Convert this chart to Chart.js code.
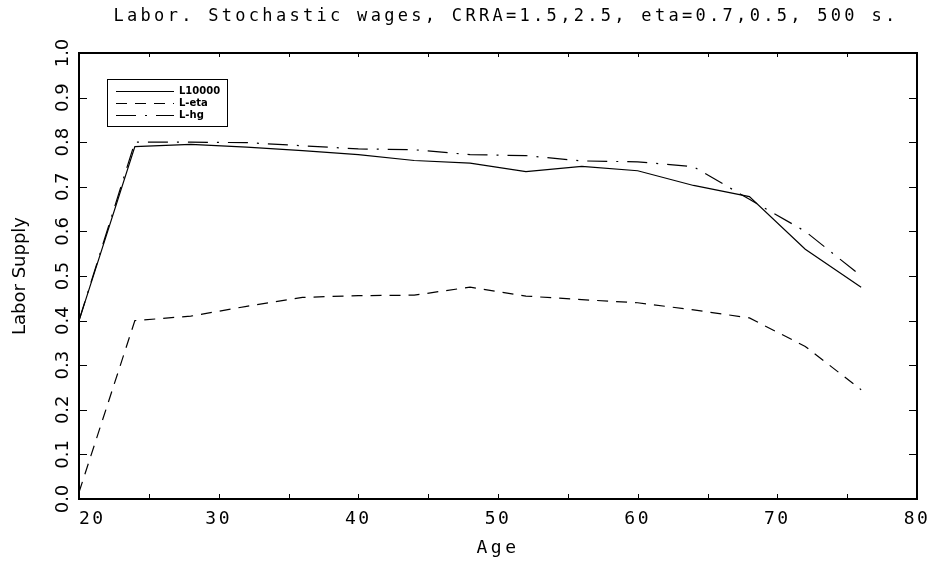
<!DOCTYPE html>
<html>
<head>
<meta charset="utf-8">
<script src="https://cdn.jsdelivr.net/npm/chart.js@4.4.0/dist/chart.umd.min.js"></script>
<style>
html,body{margin:0;padding:0;background:#ffffff;}
canvas{display:block;}
</style>
</head>
<body>
<canvas id="chart" width="933" height="563"></canvas>
<script>
// ---- data ----
const ages   = [20, 24, 28, 32, 36, 40, 44, 48, 52, 56, 60, 64, 68, 72, 76];
const L10000 = [0.400, 0.790, 0.795, 0.789, 0.781, 0.772, 0.759, 0.753, 0.734, 0.746, 0.736, 0.703, 0.678, 0.560, 0.475];
const Leta   = [0.015, 0.400, 0.410, 0.432, 0.452, 0.456, 0.457, 0.475, 0.455, 0.447, 0.440, 0.424, 0.406, 0.342, 0.245];
const Lhg    = [0.400, 0.800, 0.800, 0.799, 0.792, 0.785, 0.783, 0.772, 0.770, 0.758, 0.756, 0.745, 0.672, 0.600, 0.500];
const seriesLabels = ['L10000', 'L-eta', 'L-hg'];
const xTickLabels = [20, 30, 40, 50, 60, 70, 80];
const yTickLabels = ['0.0','0.1','0.2','0.3','0.4','0.5','0.6','0.7','0.8','0.9','1.0'];
const chartTitle = 'Labor. Stochastic wages, CRRA=1.5,2.5, eta=0.7,0.5, 500 s.';
const xTitle = 'Age';
const yTitle = 'Labor Supply';

const MONO = '"DejaVu Sans Mono", "Liberation Mono", monospace';
const SANS = '"DejaVu Sans", "Liberation Sans", sans-serif';

function toPoints(vals) { return ages.map((a, i) => ({ x: a, y: vals[i] })); }

// letter spacing / placement helpers
const styling = {
  id: 'styling',
  beforeDraw(chart) {
    const ctx = chart.ctx;
    const ca = chart.chartArea;
    const wrap = (obj, name, spacing, pre, post) => {
      if (!obj || obj['_wrapped_' + name]) return;
      const orig = obj[name];
      obj[name] = function (...args) {
        ctx.save();
        ctx.letterSpacing = spacing;
        const saved = pre ? pre(this) : null;
        const r = orig.apply(this, args);
        if (post) post(this, saved);
        ctx.restore();
        return r;
      };
      obj['_wrapped_' + name] = true;
    };
    // title centred slightly right of the plot-area centre
    wrap(chart.titleBlock, 'draw', '3.3px',
      (t) => { const s = { l: t.left, r: t.right }; t.left = chart.chartArea.left + 8; t.right = chart.chartArea.right + 8; return s; },
      (t, s) => { t.left = s.l; t.right = s.r; });
    const xs = chart.scales.x, ys = chart.scales.y;
    wrap(xs, 'drawLabels', '2.5px');
    wrap(xs, 'drawTitle', '3.5px');
    wrap(ys, 'drawTitle', '0px');
    wrap(ys, 'drawLabels', '0px');
    if (!xs._patchedItems) {
      const o = xs._computeLabelItems;
      xs._computeLabelItems = function (area) {
        const items = o.call(this, area);
        if (items.length && items[0].label === String(xTickLabels[0])) items[0].options.textAlign = 'left';
        return items;
      };
      xs._patchedItems = true;
    }
    // legend inside the plot, near the upper-left corner
    const lg = chart.legend;
    lg.left = ca.left + 35;
    lg.top = ca.top + 31.5;
  },
  afterDraw(chart) {
    const ctx = chart.ctx;
    const a = chart.chartArea;
    const xs = chart.scales.x, ys = chart.scales.y;
    ctx.save();
    ctx.strokeStyle = '#000';
    ctx.lineWidth = 1;
    ctx.beginPath();
    ys.ticks.forEach(t => {
      const py = Math.round(ys.getPixelForValue(t.value)) + 0.5;
      ctx.moveTo(a.left, py); ctx.lineTo(a.left + 8, py);
      ctx.moveTo(a.right - 8, py); ctx.lineTo(a.right, py);
    });
    xs.ticks.forEach(t => {
      const px = Math.round(xs.getPixelForValue(t.value)) + 0.5;
      ctx.moveTo(px, a.bottom); ctx.lineTo(px, a.bottom - 5);
      ctx.moveTo(px, a.top); ctx.lineTo(px, a.top + 4);
    });
    ctx.stroke();
    // plot frame
    ctx.lineWidth = 2;
    ctx.strokeRect(a.left, a.top, a.right - a.left, a.bottom - a.top);
    // legend frame
    ctx.lineWidth = 1;
    ctx.strokeRect(a.left + 28.5, a.top + 26.5, 120, 47);
    ctx.restore();
  }
};

const baseLegendLabels = Chart.defaults.plugins.legend.labels.generateLabels;

new Chart(document.getElementById('chart'), {
  type: 'line',
  data: {
    datasets: [
      { label: seriesLabels[0], data: toPoints(L10000), borderColor: '#000', backgroundColor: '#000', borderWidth: 1.2, borderDash: [], pointRadius: 0, tension: 0, fill: false },
      { label: seriesLabels[1], data: toPoints(Leta), borderColor: '#000', backgroundColor: '#000', borderWidth: 1.2, borderDash: [11, 8], pointRadius: 0, tension: 0, fill: false },
      { label: seriesLabels[2], data: toPoints(Lhg), borderColor: '#000', backgroundColor: '#000', borderWidth: 1.2, borderDash: [20, 9, 2, 9], pointRadius: 0, tension: 0, fill: false }
    ]
  },
  options: {
    responsive: false,
    animation: false,
    events: [],
    layout: { padding: { left: 0, right: 16, top: 0, bottom: 0 } },
    plugins: {
      tooltip: { enabled: false },
      title: {
        display: true,
        text: chartTitle,
        color: '#000',
        font: { family: MONO, size: 17, weight: 'normal', lineHeight: 1.2 },
        padding: { top: 6, bottom: 26.6 }
      },
      legend: {
        display: true,
        position: 'chartArea',
        align: 'start',
        labels: {
          color: '#000',
          font: { family: SANS, size: 10, weight: 'bold' },
          usePointStyle: true,
          pointStyle: 'line',
          pointStyleWidth: 58,
          boxWidth: 58,
          padding: 2,
          generateLabels: (chart) => baseLegendLabels(chart).map(item => {
            const ds = chart.data.datasets[item.datasetIndex];
            return Object.assign(item, { lineDash: ds.borderDash || [], lineWidth: ds.borderWidth, strokeStyle: ds.borderColor });
          })
        }
      }
    },
    scales: {
      x: {
        type: 'linear',
        min: 20, max: 80,
        grid: { display: false },
        border: { display: false },
        ticks: {
          stepSize: 5,
          autoSkip: false,
          maxRotation: 0,
          color: '#000',
          padding: 2,
          font: { family: MONO, size: 18 },
          callback: (v) => xTickLabels.includes(v) ? String(v) : ''
        },
        title: {
          display: true, text: xTitle, color: '#000',
          font: { family: MONO, size: 18, lineHeight: 1.2 },
          padding: { top: 0, bottom: 4.2 }
        },
        afterFit: (s) => { s.height = 64; }
      },
      y: {
        type: 'linear',
        min: 0, max: 1,
        grid: { display: false },
        border: { display: false },
        ticks: {
          stepSize: 0.1,
          minRotation: 90, maxRotation: 90,
          crossAlign: 'center',
          color: '#000',
          padding: -7,
          font: { family: SANS, size: 18 },
          callback: (v) => yTickLabels[Math.round(v * 10)]
        },
        title: {
          display: true, text: yTitle, color: '#000',
          font: { family: SANS, size: 18, lineHeight: 1.2 },
          padding: { top: 9.2, bottom: 0 }
        },
        afterFit: (s) => { s.width = 79; }
      }
    }
  },
  plugins: [styling]
});
</script>
</body>
</html>
